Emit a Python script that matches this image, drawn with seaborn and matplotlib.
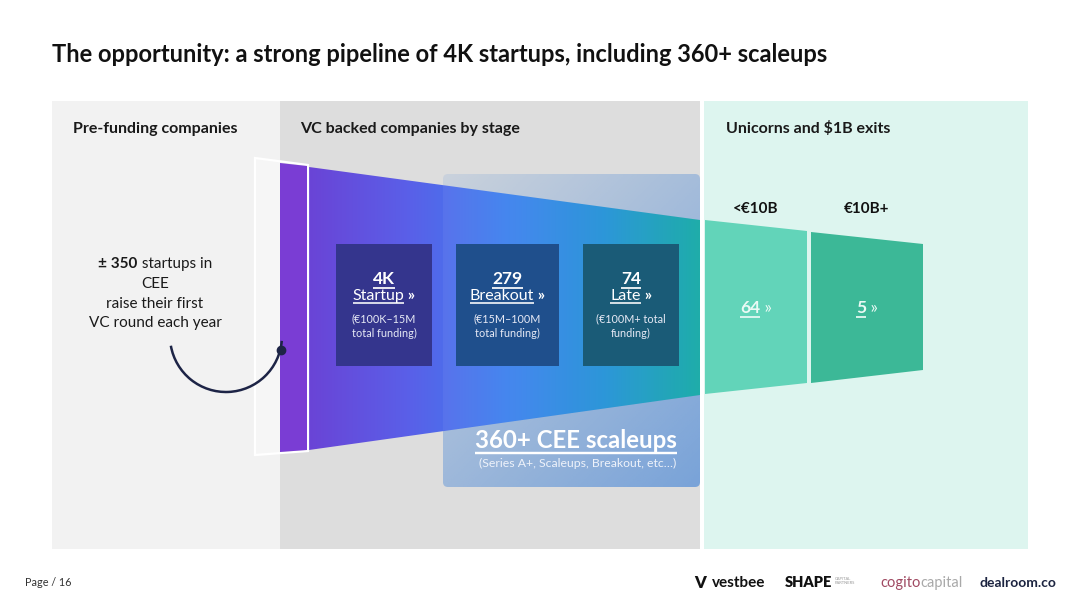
import numpy as np
import matplotlib
matplotlib.use("Agg")
import matplotlib.pyplot as plt
from matplotlib.patches import Polygon, Rectangle, FancyBboxPatch, Arc
from matplotlib.colors import to_rgb
import seaborn as sns

# ---- content ----
title = "The opportunity: a strong pipeline of 4K startups, including 360+ scaleups"
section_titles = ["Pre-funding companies", "VC backed companies by stage", "Unicorns and $1B exits"]
stage_counts = ["4K", "279", "74"]
stage_names = ["Startup", "Breakout", "Late"]
stage_ranges = ["(€100K–15M\ntotal funding)", "(€15M–100M\ntotal funding)", "(€100M+ total\nfunding)"]
unicorn_labels = ["<€10B", "€10B+"]
unicorn_counts = ["64", "5"]
first_round = "± 350"
first_round_text = [" startups in", "CEE", "raise their first", "VC round each year"]
scaleup_title = "360+ CEE scaleups"
scaleup_note = "(Series A+, Scaleups, Breakout, etc…)"
page_label = "Page / 16"

sns.set_theme(style="white")
plt.rcParams['font.family'] = ['Lato', 'DejaVu Sans']

W, H = 1080, 608
fig = plt.figure(figsize=(W / 100, H / 100), dpi=100)
ax = fig.add_axes([0, 0, 1, 1])
ax.set_xlim(0, W)
ax.set_ylim(H, 0)
ax.axis("off")
fig.patch.set_facecolor("white")
renderer = fig.canvas.get_renderer()

# ---- background panels ----
ax.add_patch(Rectangle((52, 101), 228, 448, color="#f2f2f2", lw=0, zorder=0))
ax.add_patch(Rectangle((280, 101), 420, 448, color="#dddddd", lw=0, zorder=0))
ax.add_patch(Rectangle((704, 101), 324, 448, color="#ddf5ef", lw=0, zorder=0))

ax.text(52, 62, title, fontsize=17, fontweight="bold", color="#111111", va="baseline")
for x, s in zip([73, 300, 726], section_titles):
    ax.text(x, 133, s, fontsize=11.5, fontweight="bold", color="#1a1a1a", va="baseline")

# scaleup overlay (soft gradient, behind the funnel)
box = FancyBboxPatch((443, 174), 257, 313, boxstyle="round,pad=0,rounding_size=5",
                     facecolor="none", edgecolor="none", zorder=0.5)
ax.add_patch(box)
yy, xx = np.mgrid[0:1:120j, 0:1:120j]
glow = np.zeros((120, 120, 4))
glow[..., :3] = to_rgb("#3b7fd6")
glow[..., 3] = 0.12 + 0.5 * (0.55 * yy + 0.45 * xx)
g = ax.imshow(glow, extent=[443, 700, 487, 174], aspect="auto", zorder=0.5)
g.set_clip_path(box)

# ---- funnel ----
funnel = Polygon([(309, 167), (700, 220), (700, 395), (309, 450)], closed=True,
                 facecolor="none", edgecolor="none")
ax.add_patch(funnel)
grad_cmap = sns.blend_palette(["#6a44d6", "#5a5fe8", "#3d80ef", "#2291d8", "#13a9a6"], as_cmap=True)
grad = np.linspace(0, 1, 256).reshape(1, -1)
img = ax.imshow(grad, cmap=grad_cmap, extent=[309, 700, 450, 167], aspect="auto", zorder=1)
img.set_clip_path(funnel)
# faint sheen of the overlay over the funnel
sheen = Polygon([(443, 185), (700, 220), (700, 395), (443, 431)], closed=True,
                facecolor="white", edgecolor="none", alpha=0.05, zorder=1.2)
ax.add_patch(sheen)

# white outline + purple entry strip
ax.add_patch(Polygon([(255, 158), (308, 165), (308, 451), (255, 455)], closed=True,
                     facecolor=(1, 1, 1, 0.35), edgecolor="white", lw=1.6, zorder=2))
ax.add_patch(Polygon([(280, 163), (307, 166), (307, 450), (280, 452)], closed=True,
                     facecolor="#7a3dd4", edgecolor="none", zorder=2))

# unicorn blocks
ax.add_patch(Polygon([(705, 220), (807, 231), (807, 383), (705, 394)], closed=True,
                     facecolor="#62d4b9", edgecolor="none", zorder=2))
ax.add_patch(Polygon([(811, 232), (923, 244), (923, 370), (811, 383)], closed=True,
                     facecolor="#3cb897", edgecolor="none", zorder=2))


def row(xc, y, parts, ha="center"):
    """place text parts side by side on one baseline; parts = (text, kwargs, underline)"""
    texts = [ax.text(0, y, s, va="baseline", ha="left", zorder=6, **kw) for s, kw, _ in parts]
    widths = [t.get_window_extent(renderer).width for t in texts]
    x = xc - sum(widths) / 2 if ha == "center" else xc
    for t, w, (s, kw, ul) in zip(texts, widths, parts):
        t.set_x(x)
        if ul:
            yy = y + kw.get("fontsize", 10) * 0.28
            ax.plot([x, x + w], [yy, yy], color=kw.get("color", "white"),
                    lw=kw.get("fontsize", 10) / 10, solid_capstyle="butt", zorder=6)
        x += w


# stage boxes
box_x = [336, 456, 583]
box_w = [96, 103, 96]
box_colors = ["#34358d", "#1f4f8c", "#1a5b77"]
for x, w, c, n, name, rng in zip(box_x, box_w, box_colors, stage_counts, stage_names, stage_ranges):
    ax.add_patch(Rectangle((x, 244), w, 122, facecolor=c, edgecolor="none", zorder=4))
    xc = x + w / 2
    row(xc, 284, [(n, dict(fontsize=12.5, fontweight="bold", color="white"), 1)])
    row(xc, 300, [(name, dict(fontsize=11.5, color="white"), 1),
                  (" »", dict(fontsize=11.5, fontweight="bold", color="white"), 0)])
    ax.text(xc, 326, rng, fontsize=7.8, color="#e6e9f5", ha="center", va="center",
            linespacing=1.35, zorder=6)

row(576, 448, [(scaleup_title, dict(fontsize=17.3, fontweight="bold", color="white"), 1)])
ax.text(578, 463, scaleup_note, fontsize=8.8, color="#eef2fa", ha="center", va="center", zorder=6)

for xc, lab, cnt in zip([756, 867], unicorn_labels, unicorn_counts):
    ax.text(xc, 213, lab, fontsize=11, fontweight="bold", color="#111111", ha="center", va="baseline")
    row(xc, 313, [(cnt, dict(fontsize=12.5, fontweight="bold", color="#eafaf5"), 1),
                  (" »", dict(fontsize=12.5, color="#eafaf5"), 0)])

# pre-funding text
row(155, 268, [(first_round, dict(fontsize=11, fontweight="bold", color="#1a1a1a"), 0),
               (first_round_text[0], dict(fontsize=11, color="#1a1a1a"), 0)])
for i, s in enumerate(first_round_text[1:]):
    row(155, 288 + i * 19.5, [(s, dict(fontsize=11, color="#1a1a1a"), 0)])

# connector arc
ax.add_patch(Arc((226, 336), 112, 112, theta1=5, theta2=170, color="#1d2446", lw=1.8, zorder=5))
ax.plot([281], [350], "o", color="#1d2446", ms=6, zorder=6)

# footer
ax.text(25, 586, page_label, fontsize=7.8, color="#333333", va="baseline")
ax.text(694, 588, "V", fontsize=12, fontweight="heavy", color="#111111", va="baseline")
ax.text(712, 587, "vestbee", fontsize=11, fontweight="bold", color="#111111", va="baseline")
ax.text(785, 587, "SHAPE", fontsize=10.5, fontweight="heavy", color="#111111", va="baseline")
ax.text(835, 581, "CAPITAL\nPARTNERS", fontsize=3, color="#999999", va="center", linespacing=1.1)
row(880, 587, [("cogito", dict(fontsize=10.5, color="#a04a62"), 0),
               ("capital", dict(fontsize=10.5, color="#a9a9a9"), 0)], ha="left")
ax.text(980, 587, "dealroom.co", fontsize=10, fontweight="bold", color="#1c2440", va="baseline")

fig.savefig("out.png", dpi=100)
